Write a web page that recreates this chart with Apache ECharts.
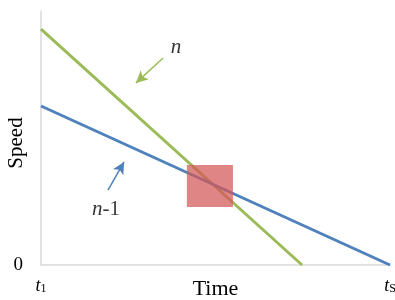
<!DOCTYPE html>
<html><head><meta charset="utf-8">
<script src="https://cdn.jsdelivr.net/npm/echarts@6/dist/echarts.min.js"></script>
<style>html,body{margin:0;padding:0;background:#fff}#c{width:395px;height:300px}</style>
</head><body><div id="c"></div>
<script>
// data (x in % of time range, y in % of speed range)
const seriesN = [[0, 92.9], [74.8, 0]];
const seriesN1 = [[0, 62.6], [100, 0]];
const regionBox = [[41.8, 22.8], [55.0, 39.4]];
const arrowN = [[35.0, 81.5], [27.2, 71.7]];
const arrowN1 = [[19.2, 29.5], [23.8, 40.6]];
const labelN = [38.7, 85.8];
const labelN1 = [18.6, 22.0];
const xTicks = {0: '{i|t}{s|1}', 100: '{i|t}{s|S}'};
const yTicks = {0: '0'};

const serif = 'Liberation Serif';
const chart = echarts.init(document.getElementById('c'), null, {renderer: 'canvas'});
chart.setOption({
  animation: false,
  grid: {left: 41, right: 5, top: 11, bottom: 35, containLabel: false, outerBoundsMode: 'none'},
  xAxis: {
    type: 'value', min: 0, max: 100, interval: 100,
    name: 'Time', nameLocation: 'middle', nameGap: 13, nameMoveOverlap: false,
    nameTextStyle: {fontFamily: serif, fontSize: 22, color: '#000'},
    axisLine: {show: true, lineStyle: {color: '#d9d9d9', width: 1.5}},
    axisTick: {show: false}, splitLine: {show: false},
    axisLabel: {
      margin: 12,
      formatter: v => xTicks[v] || '',
      rich: {
        i: {fontFamily: serif, fontStyle: 'italic', fontSize: 18, color: '#000'},
        s: {fontFamily: serif, fontSize: 12, color: '#000', padding: [6, 0, 0, 0]}
      }
    }
  },
  yAxis: {
    type: 'value', min: 0, max: 100, interval: 100,
    name: 'Speed', nameLocation: 'middle', nameGap: 14, nameRotate: 90, nameMoveOverlap: false,
    nameTextStyle: {fontFamily: serif, fontSize: 21, color: '#000', padding: [0, 10, 0, 0]},
    axisLine: {show: true, lineStyle: {color: '#d9d9d9', width: 1.5}},
    axisTick: {show: false}, splitLine: {show: false},
    axisLabel: {margin: 18, formatter: v => yTicks[v] || '', fontFamily: serif, fontSize: 19, color: '#000'}
  },
  series: [
    {type: 'line', data: seriesN, showSymbol: false, lineStyle: {color: '#9bbb59', width: 3}, z: 2},
    {type: 'line', data: seriesN1, showSymbol: false, lineStyle: {color: '#4f81bd', width: 3}, z: 2},
    {type: 'line', data: [], z: 5,
      markArea: {silent: true, z: 10, itemStyle: {color: 'rgba(212,86,86,0.72)'},
        data: [[{coord: regionBox[0]}, {coord: regionBox[1]}]]}
    },
    {type: 'line', data: [], z: 6,
      markLine: {silent: true, symbol: ['none', 'arrow'], symbolSize: [9, 12], label: {show: false},
        data: [
          [{coord: arrowN[0], lineStyle: {color: '#9bbb59', width: 1.5, type: 'solid'}}, {coord: arrowN[1]}],
          [{coord: arrowN1[0], lineStyle: {color: '#4f81bd', width: 1.5, type: 'solid'}}, {coord: arrowN1[1]}]
        ]}
    },
    {type: 'scatter', symbolSize: 0, z: 7,
      data: [
        {value: labelN, label: {formatter: '{i|n}'}},
        {value: labelN1, label: {formatter: '{i|n}{r|-1}'}}
      ],
      label: {show: true, position: 'inside',
        rich: {
          i: {fontFamily: serif, fontStyle: 'italic', fontSize: 21, color: '#000'},
          r: {fontFamily: serif, fontSize: 21, color: '#000'}
        }}
    }
  ]
});
</script></body></html>
